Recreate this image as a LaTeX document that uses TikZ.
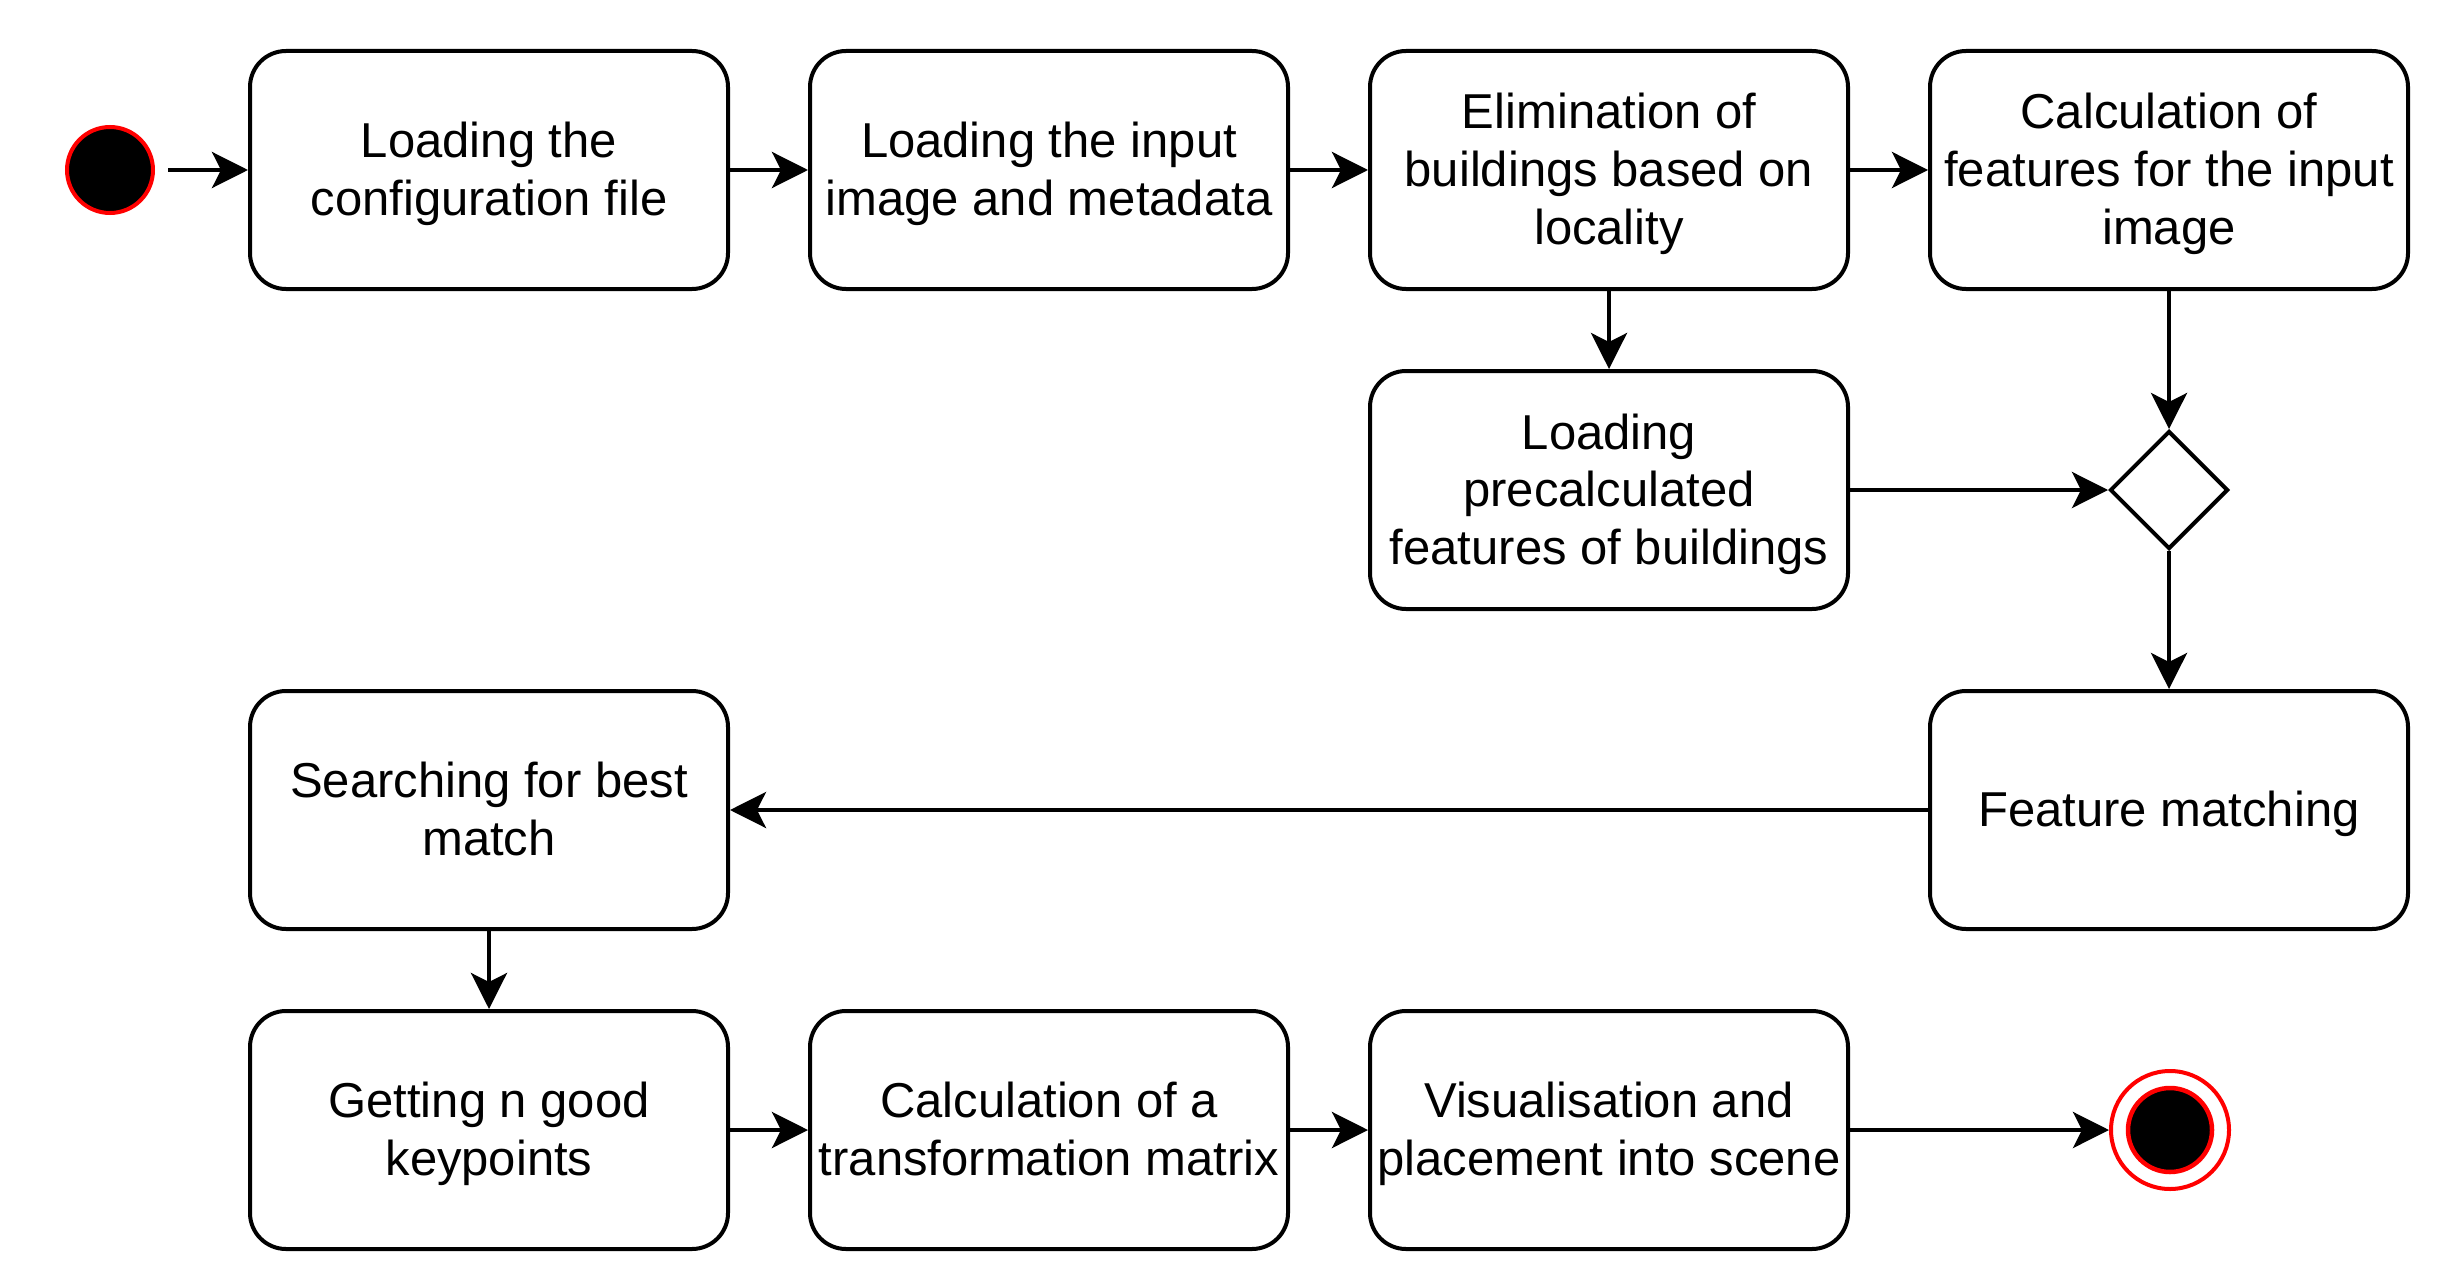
\documentclass[tikz,border=0pt]{standalone}
\usepackage{fontspec}
\setmainfont{Liberation Sans}
\usetikzlibrary{arrows.meta,shapes.geometric}
\newcommand\lnstrut{\rule[-12.2pt]{0pt}{57.6pt}}
\begin{document}
\begin{tikzpicture}[x=1pt,y=-1pt,
  act/.style={draw,line width=4pt,rounded corners=36pt,minimum width=478pt,minimum height=238pt,align=center,font=\fontsize{49}{57.6}\selectfont,inner sep=0pt},
  flow/.style={line width=4pt,-{Stealth[length=36pt,width=36pt,inset=9pt]}},
  startnode/.style={circle,fill=black,draw=red,line width=4pt,minimum size=86pt,inner sep=0pt},
  endouter/.style={circle,fill=white,draw=red,line width=4pt,minimum size=118pt,inner sep=0pt},
  endinner/.style={circle,fill=black,draw=red,line width=4.5pt,minimum size=84pt,inner sep=0pt},
  decision/.style={diamond,draw,line width=4pt,fill=white,minimum width=118pt,minimum height=118pt,inner sep=0pt}
]
\useasboundingbox (0,0) rectangle (2444,1284);
\fill[white] (0,0) rectangle (2444,1284);
\node[startnode] (start) at (110,170) {};
\node[act] (cfg) at (489,170) {\lnstrut Loading the\\\lnstrut configuration file};
\node[act] (img) at (1049,170) {\lnstrut Loading the input\\\lnstrut image and metadata};
\node[act] (elim) at (1609,170) {\lnstrut Elimination of\\\lnstrut buildings based on\\\lnstrut locality};
\node[act] (feat) at (2169,170) {\lnstrut Calculation of\\\lnstrut features for the input\\\lnstrut image};
\node[act] (pre) at (1609,490) {\lnstrut Loading\\\lnstrut precalculated\\\lnstrut features of buildings};
\node[decision] (dec) at (2169,490) {};
\node[act] (match) at (2169,810) {\lnstrut Feature matching};
\node[act] (best) at (489,810) {\lnstrut Searching for best\\\lnstrut match};
\node[act] (good) at (489,1130) {\lnstrut Getting n good\\\lnstrut keypoints};
\node[act] (mat) at (1049,1130) {\lnstrut Calculation of a\\\lnstrut transformation matrix};
\node[act] (vis) at (1609,1130) {\lnstrut Visualisation and\\\lnstrut placement into scene};
\node[endouter] (endo) at (2170,1130) {};
\node[endinner] (endi) at (2170,1130) {};

\draw[flow,shorten <=13pt] (start) -- (cfg);
\draw[flow] (cfg) -- (img);
\draw[flow] (img) -- (elim);
\draw[flow] (elim) -- (feat);
\draw[flow] (elim) -- (pre);
\draw[flow] (feat) -- (dec);
\draw[flow] (pre) -- (dec);
\draw[flow] (dec) -- (match);
\draw[flow] (match) -- (best);
\draw[flow] (best) -- (good);
\draw[flow] (good) -- (mat);
\draw[flow] (mat) -- (vis);
\draw[flow] (vis) -- (endo);
\end{tikzpicture}
\end{document}
